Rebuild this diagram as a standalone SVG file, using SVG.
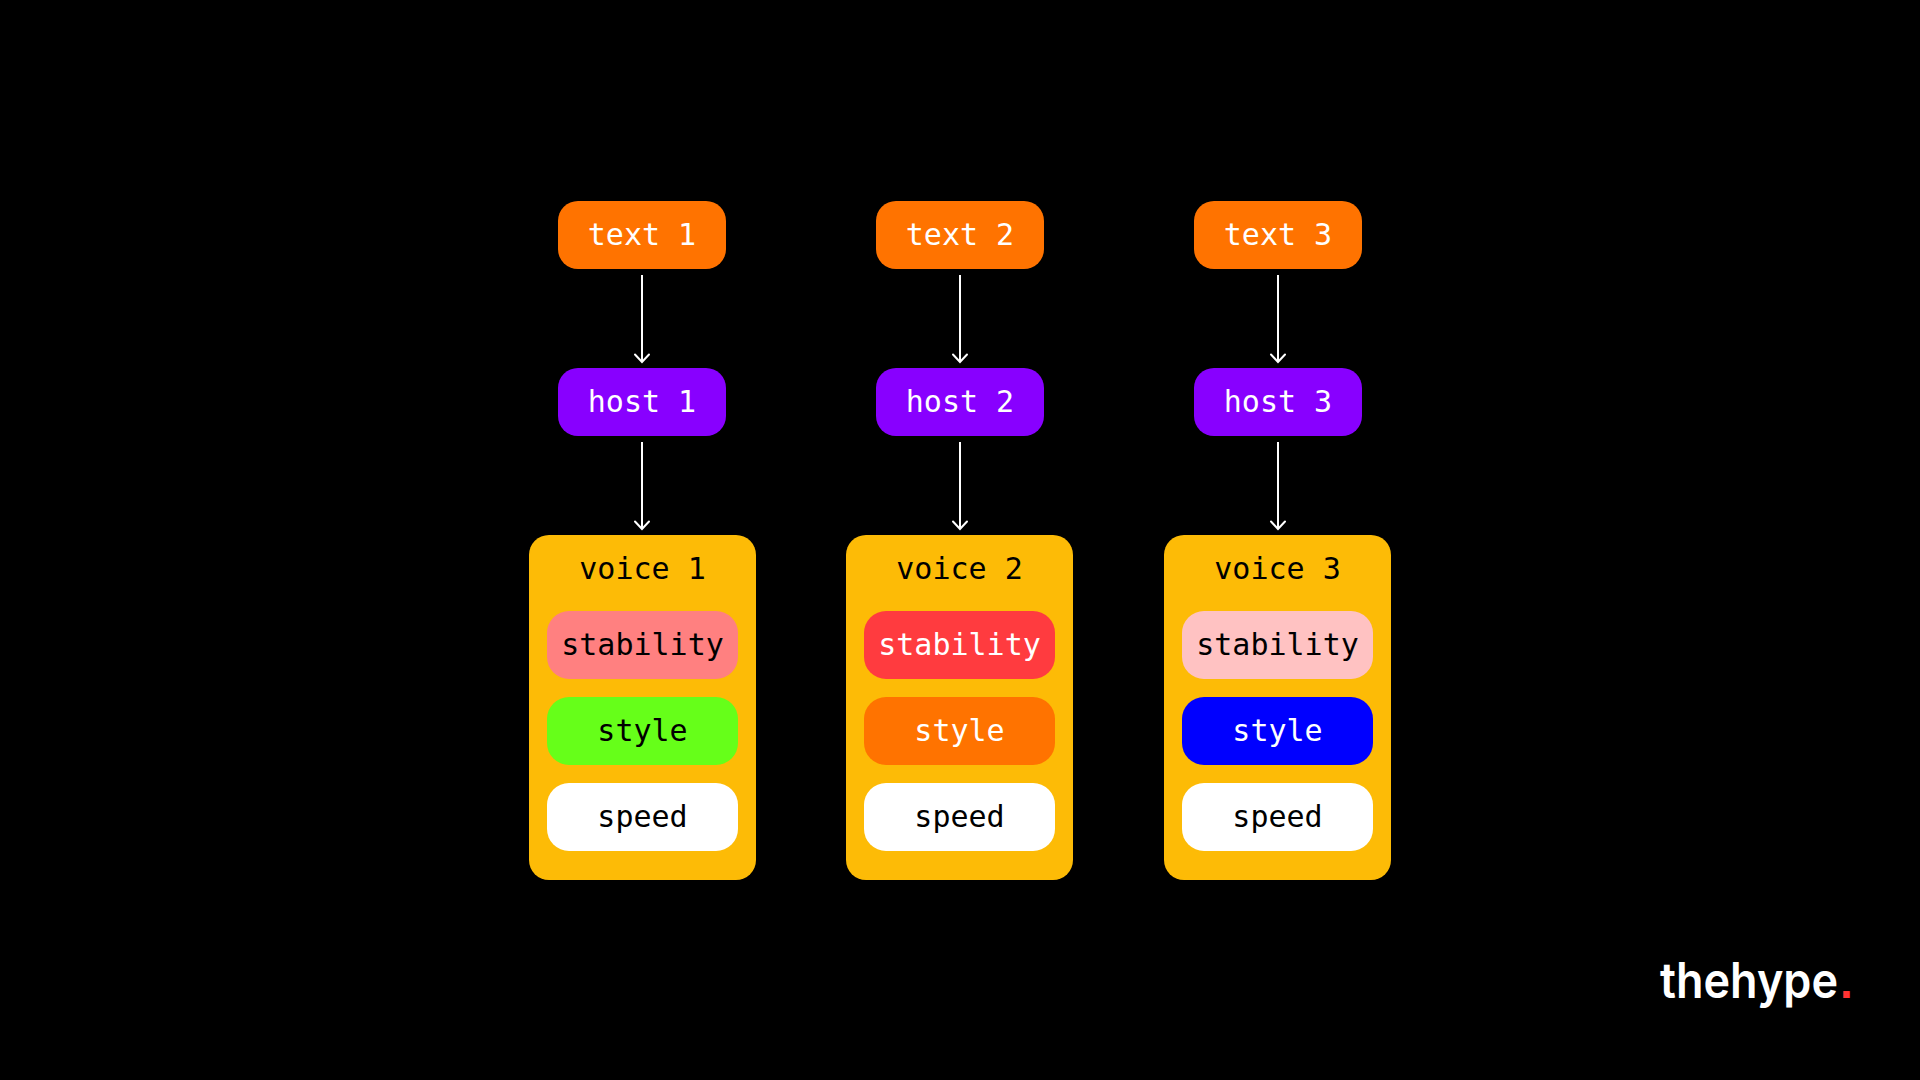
<svg xmlns="http://www.w3.org/2000/svg" width="1920" height="1080" viewBox="0 0 1920 1080">
<defs>
<marker id="arrow" markerUnits="userSpaceOnUse" markerWidth="20" markerHeight="20" refX="0" refY="0" overflow="visible" orient="auto">
<path d="M-7.5 -7 L0 0 L-7.5 7" fill="none" stroke="#fff" stroke-width="2" stroke-linecap="round"/>
</marker>
</defs>
<style>
text{font-family:"DejaVu Sans Mono","Liberation Mono",monospace;font-size:30px;text-anchor:middle}
.w{fill:#fff}.k{fill:#000}
.top{fill:#FF7300}.host{fill:#8800FF}.voice{fill:#FDBB06}
.conn line{stroke:#fff;stroke-width:2;marker-end:url(#arrow)}
.logo{font-family:"Inter","Liberation Sans",sans-serif;font-size:49px;font-weight:600;text-anchor:start}
.dot{font-family:"Liberation Sans",sans-serif;font-size:46px;font-weight:700;text-anchor:start}
</style>
<rect width="1920" height="1080" fill="#000"/>
<g id="connectors" class="conn">
<line x1="642" y1="275" x2="642" y2="362"/>
<line x1="642" y1="442" x2="642" y2="529"/>
<line x1="960" y1="275" x2="960" y2="362"/>
<line x1="960" y1="442" x2="960" y2="529"/>
<line x1="1278" y1="275" x2="1278" y2="362"/>
<line x1="1278" y1="442" x2="1278" y2="529"/>
</g>
<g id="text1"><rect class="top" x="558" y="201" width="168" height="68" rx="20"/><text class="w" x="642" y="245">text 1</text></g>
<g id="text2"><rect class="top" x="876" y="201" width="168" height="68" rx="20"/><text class="w" x="960" y="245">text 2</text></g>
<g id="text3"><rect class="top" x="1194" y="201" width="168" height="68" rx="20"/><text class="w" x="1278" y="245">text 3</text></g>
<g id="host1"><rect class="host" x="558" y="368" width="168" height="68" rx="20"/><text class="w" x="642" y="412">host 1</text></g>
<g id="host2"><rect class="host" x="876" y="368" width="168" height="68" rx="20"/><text class="w" x="960" y="412">host 2</text></g>
<g id="host3"><rect class="host" x="1194" y="368" width="168" height="68" rx="20"/><text class="w" x="1278" y="412">host 3</text></g>
<g id="voice1"><rect class="voice" x="529" y="535" width="227" height="345" rx="20"/><text class="k" x="642.5" y="579">voice 1</text>
<g id="stability1"><rect fill="#FF8080" x="547" y="611" width="191" height="68" rx="22"/><text class="k" x="642.5" y="655">stability</text></g>
<g id="style1"><rect fill="#66FF19" x="547" y="697" width="191" height="68" rx="22"/><text class="k" x="642.5" y="741">style</text></g>
<g id="speed1"><rect fill="#fff" x="547" y="783" width="191" height="68" rx="22"/><text class="k" x="642.5" y="827">speed</text></g></g>
<g id="voice2"><rect class="voice" x="846" y="535" width="227" height="345" rx="20"/><text class="k" x="959.5" y="579">voice 2</text>
<g id="stability2"><rect fill="#FF3B3F" x="864" y="611" width="191" height="68" rx="22"/><text class="w" x="959.5" y="655">stability</text></g>
<g id="style2"><rect fill="#FF7300" x="864" y="697" width="191" height="68" rx="22"/><text class="w" x="959.5" y="741">style</text></g>
<g id="speed2"><rect fill="#fff" x="864" y="783" width="191" height="68" rx="22"/><text class="k" x="959.5" y="827">speed</text></g></g>
<g id="voice3"><rect class="voice" x="1164" y="535" width="227" height="345" rx="20"/><text class="k" x="1277.5" y="579">voice 3</text>
<g id="stability3"><rect fill="#FFC2C2" x="1182" y="611" width="191" height="68" rx="22"/><text class="k" x="1277.5" y="655">stability</text></g>
<g id="style3"><rect fill="#0000FF" x="1182" y="697" width="191" height="68" rx="22"/><text class="w" x="1277.5" y="741">style</text></g>
<g id="speed3"><rect fill="#fff" x="1182" y="783" width="191" height="68" rx="22"/><text class="k" x="1277.5" y="827">speed</text></g></g>
<g id="logo"><text class="logo" x="1660" y="998" textLength="178" lengthAdjust="spacingAndGlyphs" fill="#fff">thehype</text><text class="dot" x="1840" y="998" fill="#FF3333">.</text></g>
</svg>
